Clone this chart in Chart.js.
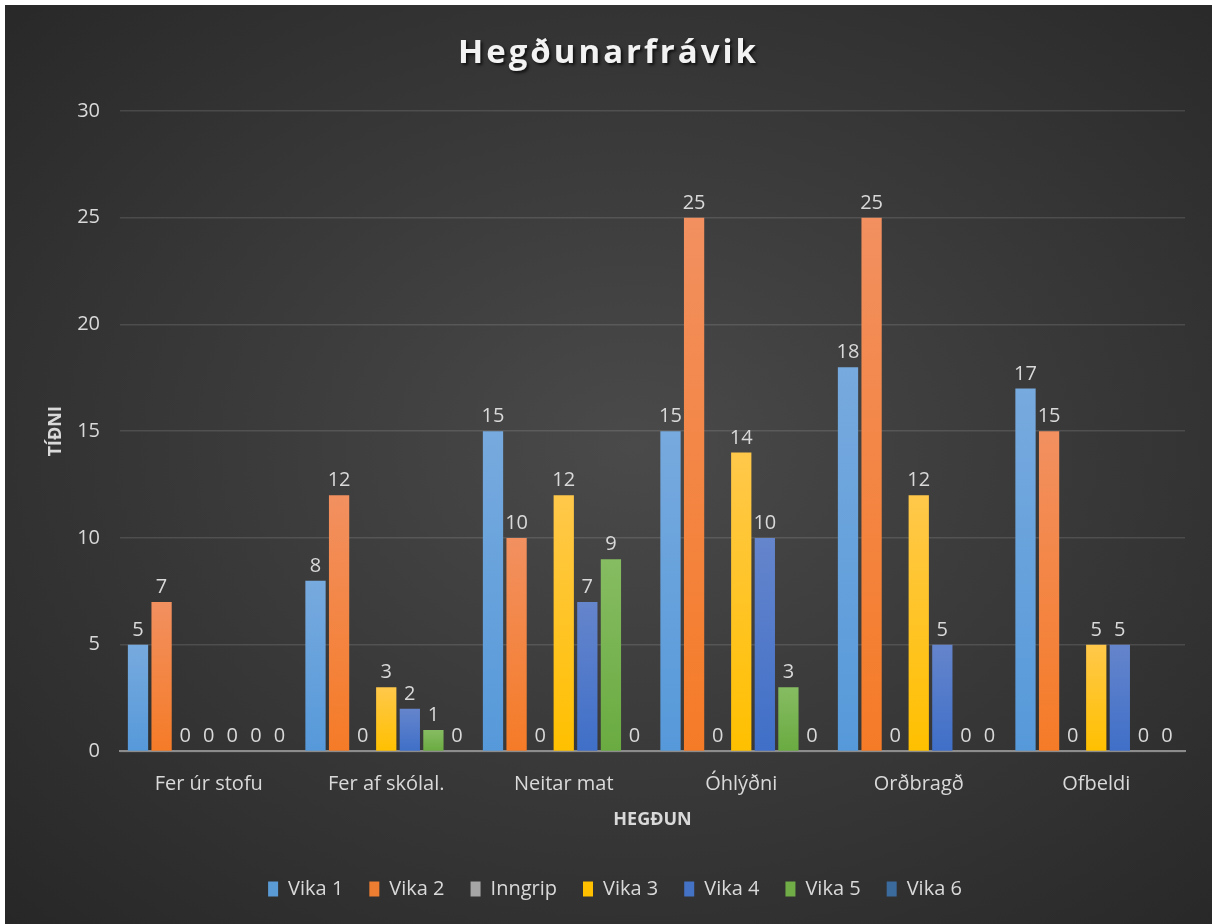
<!DOCTYPE html>
<html>
<head>
<meta charset="utf-8">
<title>Hegðunarfrávik</title>
<script src="https://cdn.jsdelivr.net/npm/chart.js@4.4.1/dist/chart.umd.min.js"></script>
<style>
    body { margin: 0; background: #fff; }
    .panel {
        position: absolute;
        left: 5px; top: 5px;
        width: 1207px; height: 919px;
        background: radial-gradient(ellipse at 52% 48%, #4a4a4a 0%, #3a3a3a 45%, #272727 100%);
    }
    .panel h1 {
        position: absolute;
        left: 0; right: 0; top: 23px;
        margin: 0;
        text-align: center;
        font-family: "Open Sans", sans-serif;
        font-weight: 700;
        font-size: 33px;
        letter-spacing: 3px;
        color: #f2f2f2;
        text-shadow: 2px 2px 3px rgba(0, 0, 0, 0.7);
    }
    .chart-box { position: absolute; left: 0; top: 0; width: 1207px; height: 919px; }
</style>
</head>
<body>
<div class="panel">
    <div class="chart-box"><canvas id="behaviourChart"></canvas></div>
    <h1>Hegðunarfrávik</h1>
</div>
<script>
// Categories and weekly counts
const categories = ['Fer úr stofu', 'Fer af skólal.', 'Neitar mat', 'Óhlýðni', 'Orðbragð', 'Ofbeldi'];
const vika1 = [5, 8, 15, 15, 18, 17];
const vika2 = [7, 12, 10, 25, 25, 15];
const inngrip = [0, 0, 0, 0, 0, 0];
const vika3 = [0, 3, 12, 14, 12, 5];
const vika4 = [0, 2, 7, 10, 5, 5];
const vika5 = [0, 1, 9, 3, 0, 0];
const vika6 = [0, 0, 0, 0, 0, 0];
const yTicks = [0, 5, 10, 15, 20, 25, 30];

const textColor = '#d9d9d9';
const fontFamily = '"Open Sans", sans-serif';

// bar colour: [top, bottom] of each bar's gradient
function barGradient(top, bottom) {
    return function(context) {
        const chart = context.chart;
        const yScale = chart.scales.y;
        if (!yScale || context.parsed === undefined) return bottom;
        const y0 = yScale.getPixelForValue(0);
        const y1 = yScale.getPixelForValue(context.parsed.y);
        if (!isFinite(y0) || !isFinite(y1) || y0 === y1) return bottom;
        const g = chart.ctx.createLinearGradient(0, y1, 0, y0);
        g.addColorStop(0, top);
        g.addColorStop(1, bottom);
        return g;
    };
}

function series(label, data, top, bottom, legendColor) {
    return {
        label: label,
        data: data,
        backgroundColor: barGradient(top, bottom),
        legendColor: legendColor,
        borderWidth: 0,
        categoryPercentage: 0.93,
        barPercentage: 0.86
    };
}

// value labels above each bar
const valueLabels = {
    id: 'valueLabels',
    afterDatasetsDraw(chart) {
        const ctx = chart.ctx;
        ctx.save();
        ctx.font = '20px ' + fontFamily;
        ctx.fillStyle = textColor;
        ctx.textAlign = 'center';
        ctx.textBaseline = 'alphabetic';
        chart.data.datasets.forEach((ds, i) => {
            const meta = chart.getDatasetMeta(i);
            meta.data.forEach((bar, j) => {
                ctx.fillText(String(ds.data[j]), bar.x, bar.y - 9);
            });
        });
        ctx.restore();
    }
};

const ctx = document.getElementById('behaviourChart').getContext('2d');
const behaviourChart = new Chart(ctx, {
    type: 'bar',
    data: {
        labels: categories,
        datasets: [
            series('Vika 1', vika1, '#77aade', '#5699da', '#5B9BD5'),
            series('Vika 2', vika2, '#f29060', '#f57b27', '#ED7D31'),
            series('Inngrip', inngrip, '#b5b5b5', '#a5a5a5', '#A5A5A5'),
            series('Vika 3', vika3, '#ffc84a', '#ffc000', '#FFC000'),
            series('Vika 4', vika4, '#6585cc', '#3f6fc8', '#4472C4'),
            series('Vika 5', vika5, '#86bc62', '#6aab41', '#70AD47'),
            series('Vika 6', vika6, '#3a6d9e', '#255E91', '#3b6a9c')
        ]
    },
    options: {
        responsive: true,
        maintainAspectRatio: false,
        animation: false,
        layout: {
            padding: { top: 106, right: 27, bottom: 15, left: 40 }
        },
        plugins: {
            title: { display: false },
            tooltip: { enabled: false },
            legend: {
                position: 'bottom',
                labels: {
                    color: textColor,
                    font: { family: fontFamily, size: 20 },
                    boxWidth: 10,
                    boxHeight: 15,
                    padding: 26,
                    generateLabels(chart) {
                        return chart.data.datasets.map((ds, i) => ({
                            text: ds.label,
                            fillStyle: ds.legendColor,
                            strokeStyle: ds.legendColor,
                            lineWidth: 0,
                            fontColor: textColor,
                            datasetIndex: i
                        }));
                    }
                }
            }
        },
        scales: {
            x: {
                grid: { display: false },
                border: { color: '#8c8c8c', width: 2 },
                ticks: {
                    color: textColor,
                    font: { family: fontFamily, size: 20 },
                    padding: 13
                },
                title: {
                    display: true,
                    text: 'HEGÐUN',
                    color: textColor,
                    font: { family: fontFamily, size: 18, weight: 'bold' },
                    padding: { top: 0, bottom: 22 }
                }
            },
            y: {
                min: 0,
                max: 30,
                afterBuildTicks(axis) {
                    axis.ticks = yTicks.map(v => ({ value: v }));
                },
                afterFit(axis) {
                    axis.width = 75;
                },
                grid: {
                    color: 'rgba(255, 255, 255, 0.12)',
                    lineWidth: 1.5,
                    drawTicks: false
                },
                border: { display: false },
                ticks: {
                    color: textColor,
                    font: { family: fontFamily, size: 20 },
                    padding: 20
                },
                title: {
                    display: true,
                    text: 'TÍÐNI',
                    color: textColor,
                    font: { family: fontFamily, size: 18, weight: 'bold' },
                    padding: { top: 0, bottom: 10 }
                }
            }
        }
    },
    plugins: [valueLabels]
});
</script>
</body>
</html>
